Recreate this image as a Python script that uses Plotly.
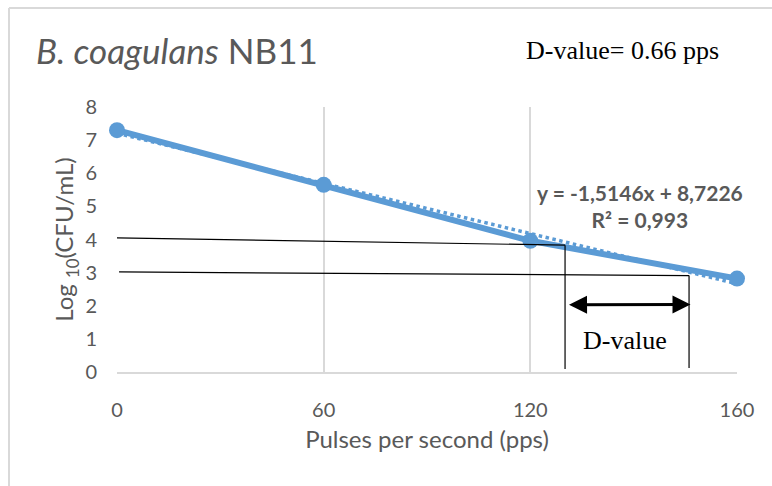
import plotly.graph_objects as go

# Survival data
pps_labels = ["0", "60", "120", "160"]
log_cfu = [7.30, 5.65, 3.96, 2.82]

# Linear trendline (x = category index 1..n)
trend_slope = -1.5146
trend_intercept = 8.7226
r_squared = 0.993
d_value = 0.66

# D-value construction guides (category-index x, log10 y)
guide_upper = [(-0.01, 4.05), (2.168, 3.83)]
guide_lower = [(0.01, 3.02), (2.768, 2.91)]
drop_left = [(2.168, 3.83), (2.168, 0.09)]
drop_right = [(2.768, 2.91), (2.768, 0.12)]
span_arrow = [(2.18, 2.03), (2.775, 2.04)]

BLUE = "#5B9BD5"
GRAY_TXT = "#595959"
GRID = "#D9D9D9"
SANS = "Lato, 'Open Sans', sans-serif"
SERIF = "'Liberation Serif', 'Times New Roman', serif"

trend_y = [trend_slope * (i + 1) + trend_intercept for i in range(len(pps_labels))]

fig = go.Figure()
fig.add_trace(go.Scatter(
    x=pps_labels, y=trend_y, mode="lines",
    line=dict(color=BLUE, width=3.5, dash="dot"),
    cliponaxis=False, hoverinfo="skip", showlegend=False,
))
fig.add_trace(go.Scatter(
    x=pps_labels, y=log_cfu, mode="lines+markers",
    line=dict(color=BLUE, width=6),
    marker=dict(color=BLUE, size=16),
    cliponaxis=False, showlegend=False,
))

def seg(p, q, w=1.2):
    return dict(type="line", xref="x", yref="y", x0=p[0], y0=p[1], x1=q[0], y1=q[1],
                line=dict(color="black", width=w), layer="above")

shapes = [seg(*guide_upper), seg(*guide_lower), seg(*drop_left), seg(*drop_right)]

# Chart-area border (left and top edges)
L, R, T, B = 117, 737, 107, 372
pw, ph = R - L, B - T
def px(x):
    return (x - L) / pw
def py(y):
    return (B - y) / ph

shapes.append(dict(type="line", xref="paper", yref="paper", x0=px(9), x1=px(9),
                   y0=py(8), y1=py(500), line=dict(color=GRID, width=2)))
shapes.append(dict(type="line", xref="paper", yref="paper", x0=px(9), x1=px(780),
                   y0=py(8), y1=py(8), line=dict(color=GRID, width=2)))

annotations = [
    dict(xref="paper", yref="paper", x=px(34), y=py(50), xanchor="left", yanchor="middle",
         text="<i>B. coagulans</i> NB11", showarrow=False,
         font=dict(family=SANS, size=35, color=GRAY_TXT)),
    dict(xref="paper", yref="paper", x=px(622), y=py(50), xanchor="center", yanchor="middle",
         text=f"D-value= {d_value} pps", showarrow=False,
         font=dict(family=SERIF, size=26, color="black")),
    dict(xref="paper", yref="paper", x=px(640), y=py(206), xanchor="center", yanchor="middle",
         text=(f"<b>y = {trend_slope:.4f}x + {trend_intercept:.4f}".replace(".", ",")
               + f"<br>R² = {r_squared:.3f}".replace(".", ",") + "</b>"),
         showarrow=False, font=dict(family=SANS, size=21, color=GRAY_TXT)),
    dict(xref="paper", yref="paper", x=px(625), y=py(340), xanchor="center", yanchor="middle",
         text="D-value", showarrow=False,
         font=dict(family=SERIF, size=26, color="black")),
    dict(xref="x", yref="y", axref="x", ayref="y",
         x=span_arrow[1][0], y=span_arrow[1][1], ax=span_arrow[0][0], ay=span_arrow[0][1],
         text="", showarrow=True, arrowhead=2, startarrowhead=2, arrowside="end+start",
         arrowsize=1.2, startarrowsize=1.2, arrowwidth=3, arrowcolor="black"),
]

fig.update_layout(
    width=772, height=486,
    margin=dict(l=L, r=772 - R, t=T, b=486 - B),
    paper_bgcolor="white", plot_bgcolor="white",
    shapes=shapes, annotations=annotations,
    xaxis=dict(
        type="category", range=[0, len(pps_labels) - 1],
        showgrid=True, gridcolor=GRID, gridwidth=1.5,
        showline=True, linecolor=GRID, linewidth=1.5,
        ticks="", ticklabelstandoff=19,
        tickfont=dict(family=SANS, size=20, color=GRAY_TXT),
        title=dict(text="Pulses per second (pps)", standoff=11,
                   font=dict(family=SANS, size=24, color=GRAY_TXT)),
        zeroline=False,
    ),
    yaxis=dict(
        range=[0, 8], dtick=1, showgrid=False, zeroline=False, showline=False,
        ticks="", ticklabelstandoff=19,
        tickfont=dict(family=SANS, size=20, color=GRAY_TXT),
        title=dict(text="Log <sub>10</sub>(CFU/mL)", standoff=4,
                   font=dict(family=SANS, size=24, color=GRAY_TXT)),
    ),
)

fig.write_html("out.html")
